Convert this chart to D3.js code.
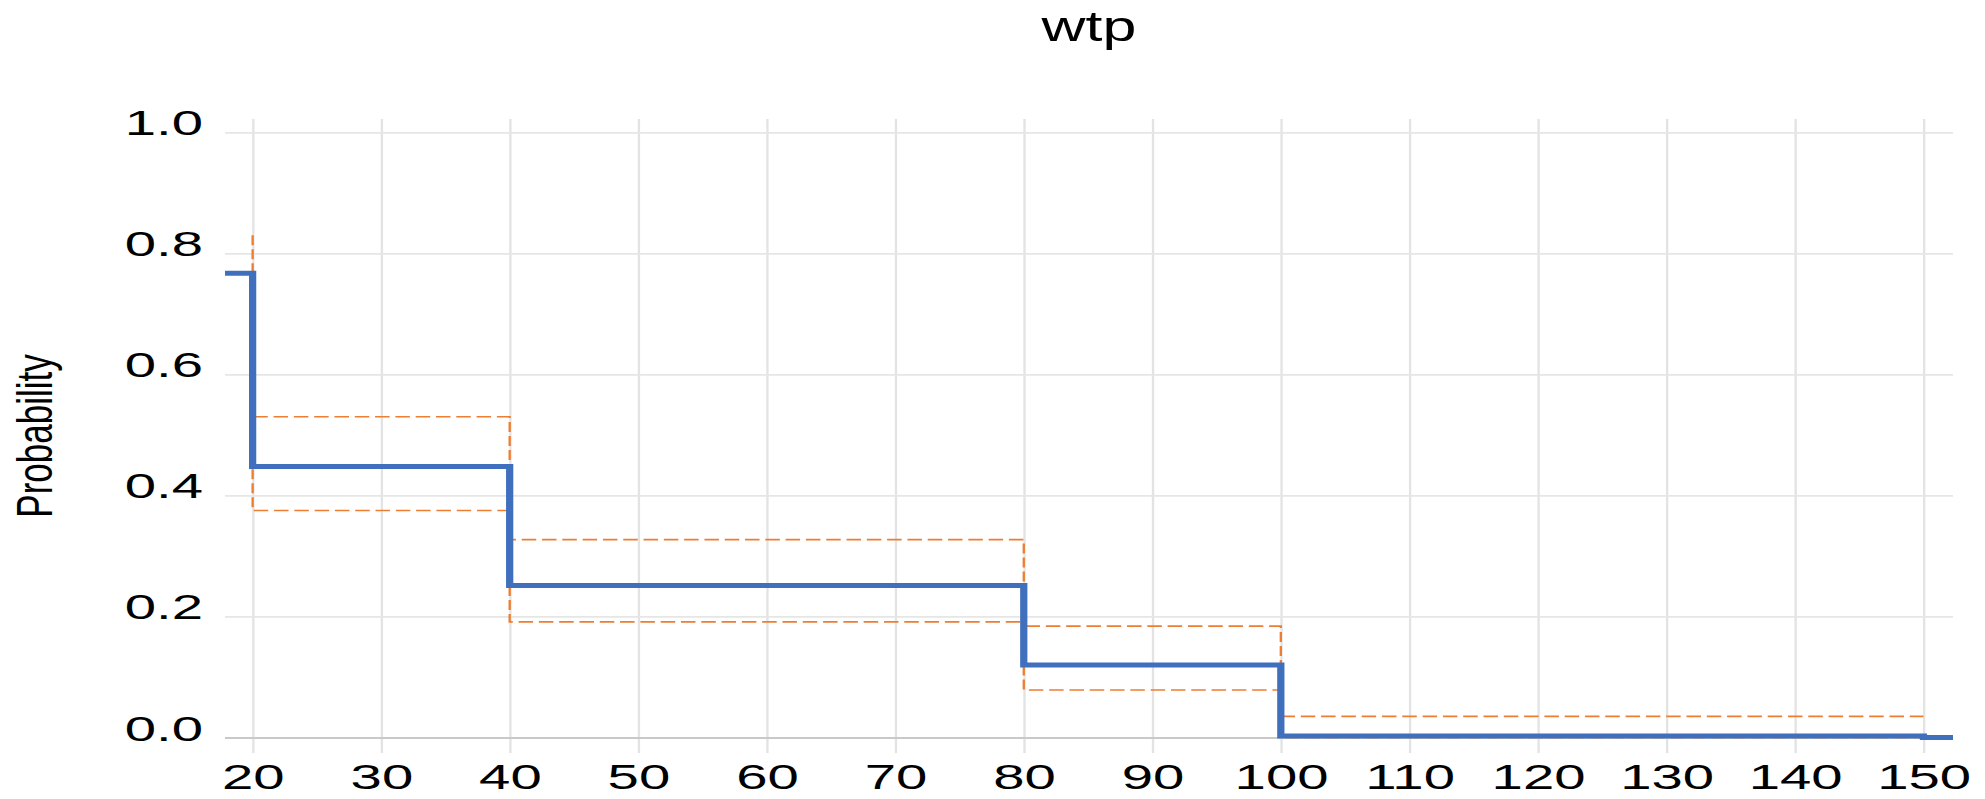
<!DOCTYPE html>
<html>
<head>
<meta charset="utf-8">
<script src="https://cdn.jsdelivr.net/npm/d3@7"></script>
<style>
  html, body { margin: 0; padding: 0; background: #fff; overflow: hidden; }
  svg { display: block; }
  text { font-family: "Liberation Sans", Arial, sans-serif; fill: #000; }
</style>
</head>
<body>
<svg id="chart"></svg>
<script>
// ---- data ----
const title = "wtp";
const yLabel = "Probability";
const xTicks = [20, 30, 40, 50, 60, 70, 80, 90, 100, 110, 120, 130, 140, 150];
const yTicks = [0.0, 0.2, 0.4, 0.6, 0.8, 1.0];
const xDomain = [17.85, 152.3];
const yDomain = [-0.0256, 1.022];

// step points: value holds from x to the next x
const estX = [17.85, 20, 40, 80, 100, 150, 152.3];
const estY = [0.767, 0.448, 0.251, 0.12, 0.0025, 0, 0];
const upperX = [20, 20, 40, 80, 100, 150];
const upperY = [0.83, 0.53, 0.327, 0.184, 0.035, 0.035];
const lowerX = [20, 20, 40, 80, 100, 150];
const lowerY = [0.767, 0.375, 0.191, 0.0785, 0, 0];

// ---- layout ----
const W = 1985, H = 799;
const sx = 1.45;               // horizontal stretch of the original picture
const tickSx = 1.11;           // extra width of tick labels
const VW = W / sx;
const plot = { left: 225 / sx, right: 1953 / sx, top: 119, bottom: 753 };

const svg = d3.select("#chart")
  .attr("width", W).attr("height", H)
  .attr("viewBox", `0 0 ${VW} ${H}`)
  .attr("preserveAspectRatio", "none");

const x = d3.scaleLinear().domain(xDomain).range([plot.left, plot.right]);
const y = d3.scaleLinear().domain(yDomain).range([plot.bottom, plot.top]);

// vertical gridlines + x labels
const gx = svg.append("g")
  .attr("transform", `translate(0,${plot.bottom})`)
  .call(d3.axisBottom(x).tickValues(xTicks).tickSize(-(plot.bottom - plot.top)).tickFormat(d3.format("d")));
gx.select(".domain").remove();
gx.selectAll(".tick line").attr("stroke", "#e3e3e3").attr("stroke-width", 1.6);
gx.selectAll(".tick text")
  .attr("y", 789 - plot.bottom).attr("dy", 0).attr("x", 0)
  .attr("transform", `scale(${tickSx},1)`)
  .attr("font-size", 35).attr("fill", "#000");

// horizontal gridlines + y labels
const gy = svg.append("g")
  .attr("transform", `translate(${plot.left},0)`)
  .call(d3.axisLeft(y).tickValues(yTicks).tickSize(-(plot.right - plot.left)).tickFormat(d3.format(".1f")));
gy.select(".domain").remove();
gy.selectAll(".tick line")
  .attr("stroke", d => d === 0 ? "#c9c9c9" : "#e6e6e6")
  .attr("stroke-width", d => d === 0 ? 2.2 : 1.8);
gy.selectAll(".tick text")
  .attr("x", (140 - plot.left) / tickSx).attr("dy", 0).attr("y", 2.5)
  .attr("transform", `scale(${tickSx},1)`)
  .attr("font-size", 35).attr("fill", "#000");

// series
const toPts = (xs, ys) => xs.map((v, i) => [v, ys[i]]);
const stepLine = d3.line().x(d => x(d[0])).y(d => y(d[1])).curve(d3.curveStepAfter);

svg.append("path").datum(toPts(lowerX, lowerY))
  .attr("d", stepLine).attr("fill", "none")
  .attr("stroke", "#ED7D31").attr("stroke-width", 1.6).attr("stroke-dasharray", "10,4");
svg.append("path").datum(toPts(upperX, upperY))
  .attr("d", stepLine).attr("fill", "none")
  .attr("stroke", "#ED7D31").attr("stroke-width", 1.6).attr("stroke-dasharray", "10,4");
svg.append("path").datum(toPts(estX, estY))
  .attr("d", stepLine).attr("fill", "none")
  .attr("stroke", "#4070bd").attr("stroke-width", 5).attr("stroke-linejoin", "miter");

// title
svg.append("text")
  .attr("x", (plot.left + plot.right) / 2).attr("y", 41)
  .attr("text-anchor", "middle").attr("font-size", 42)
  .text(title);

// y label
svg.append("text")
  .attr("transform", `translate(${52 / sx},${436}) rotate(-90)`)
  .attr("text-anchor", "middle").attr("font-size", 35)
  .text(yLabel);
</script>
</body>
</html>
